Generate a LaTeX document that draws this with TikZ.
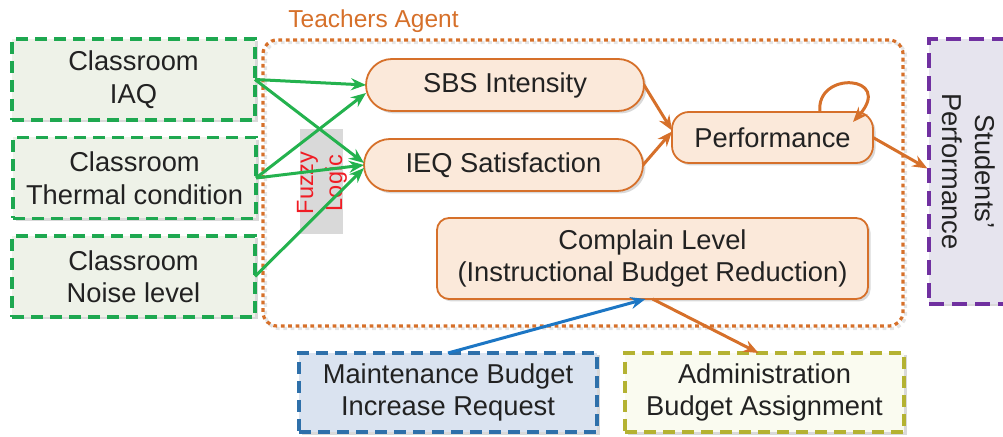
\documentclass[tikz,border=0pt]{standalone}
\usepackage{fontspec}
\setmainfont{Liberation Sans}
\usetikzlibrary{arrows.meta,shadows}
\definecolor{cgreen}{RGB}{30,168,80}
\definecolor{cgreenfill}{RGB}{238,242,232}
\definecolor{agreen}{RGB}{36,178,78}
\definecolor{corange}{RGB}{214,112,42}
\definecolor{corangefill}{RGB}{251,233,218}
\definecolor{cblue}{RGB}{46,112,170}
\definecolor{cbluefill}{RGB}{218,227,240}
\definecolor{ablue}{RGB}{28,118,196}
\definecolor{colive}{RGB}{180,178,50}
\definecolor{colivefill}{RGB}{250,251,240}
\definecolor{cpurple}{RGB}{112,48,160}
\definecolor{cpurplefill}{RGB}{230,228,238}
\definecolor{cred}{RGB}{240,28,36}
\definecolor{cgray}{RGB}{217,217,217}
\definecolor{ctext}{RGB}{34,34,34}
\begin{document}
\begin{tikzpicture}[x=1pt,y=1pt,
  txt/.style={font=\fontsize{27.3}{32.5}\selectfont, text=ctext, align=center, inner sep=0pt, outer sep=0pt},
  shad/.style={drop shadow={shadow xshift=2.5pt, shadow yshift=-2.5pt, opacity=0.15, fill=black}},
  inbox/.style={txt, draw=cgreen, fill=cgreenfill, line width=3.2pt, dash pattern=on 12pt off 7pt, minimum width=243pt, minimum height=81pt, shad},
  agbox/.style={txt, draw=corange, fill=corangefill, line width=1.8pt, shad},
  botbox/.style={txt, line width=3.2pt, dash pattern=on 12pt off 7pt, minimum height=79pt, shad},
  container/.style={draw=corange, line width=3.2pt, dash pattern=on 3.8pt off 3.6pt, rounded corners=14pt, minimum width=640pt, minimum height=286pt, inner sep=0pt},
  garr/.style={draw=agreen, line width=3pt, -{Stealth[length=15pt,width=12pt,inset=5pt]}},
  oarr/.style={draw=corange, line width=3pt, -{Stealth[length=15pt,width=12pt,inset=5pt]}},
  barr/.style={draw=ablue, line width=3pt, -{Stealth[length=15pt,width=12pt,inset=5pt]}}
]
\useasboundingbox (0,0) rectangle (1003,436);

% Teachers Agent container
\node[container, draw=black!10] (agentshadow) at (585.5,250.5) {};
\node[container] (agent) at (583,253) {};
\node[font=\fontsize{24.5}{28}\selectfont, text=corange, inner sep=0pt] (agentlabel) at (373.5,415) {Teachers Agent};

% Fuzzy logic
\node[fill=cgray, minimum width=43pt, minimum height=105pt, inner sep=0pt] (fuzzy) at (321.5,254.5) {};
\node[font=\fontsize{23.5}{29}\selectfont, text=cred, align=center, rotate=90, inner sep=0pt] (fuzzytxt) at (322,253) {Fuzzy\\Logic};

% Inputs
\node[inbox] (iaq) at (133.5,356.5) {Classroom\\IAQ};
\node[inbox] (therm) at (134.5,258) {Classroom\\Thermal condition};
\node[inbox] (noise) at (133.5,159.5) {Classroom\\Noise level};

% Agent states
\node[agbox, minimum width=278pt, minimum height=52pt, rounded corners=26pt] (sbs) at (505,351) {SBS Intensity};
\node[agbox, minimum width=279pt, minimum height=52pt, rounded corners=26pt] (ieq) at (503.5,271) {IEQ Satisfaction};
\node[agbox, minimum width=201pt, minimum height=51pt, rounded corners=17pt] (perf) at (772.5,298.5) {Performance};
\node[agbox, minimum width=431pt, minimum height=81pt, rounded corners=12pt] (compl) at (652.5,177.5) {Complain Level\\(Instructional Budget Reduction)};

% Bottom boxes
\node[botbox, draw=cblue, fill=cbluefill, minimum width=298pt] (maint) at (448,43.5) {Maintenance Budget\\Increase Request};
\node[botbox, draw=colive, fill=colivefill, minimum width=279pt] (admin) at (764.5,43.5) {Administration\\Budget Assignment};

% Students' performance
\node[draw=cpurple, fill=cpurplefill, line width=3.2pt, dash pattern=on 15pt off 8pt, minimum width=79pt, minimum height=265pt, inner sep=0pt, shad] (stud) at (968.5,264.5) {};
\node[txt, rotate=-90] (studtxt) at (stud.center) {Students’\\Performance};

% Green arrows
\draw[garr] (iaq.east) -- (sbs.west);
\draw[garr] (iaq.east) -- ([yshift=2pt]ieq.west);
\draw[garr] (therm.east) -- ([yshift=-8pt]sbs.west);
\draw[garr] (therm.east) -- ([yshift=0pt]ieq.west);
\draw[garr] (noise.east) -- ([yshift=-3pt]ieq.west);

% Orange arrows
\draw[oarr] (sbs.east) -- ([yshift=7pt]perf.west);
\draw[oarr] (ieq.east) -- ([yshift=6pt]perf.west);
\draw[oarr] ([xshift=47.5pt]perf.north) .. controls +(-5,42) and +(42,47) .. ([xshift=-20pt,yshift=-10pt]perf.north east);
\draw[oarr] (perf.east) -- ([yshift=3pt]stud.west);
\draw[oarr] (compl.south) -- ([xshift=-6pt]admin.north);

% Blue arrow
\draw[barr] (maint.north) -- ([xshift=-7pt]compl.south);
\end{tikzpicture}
\end{document}
